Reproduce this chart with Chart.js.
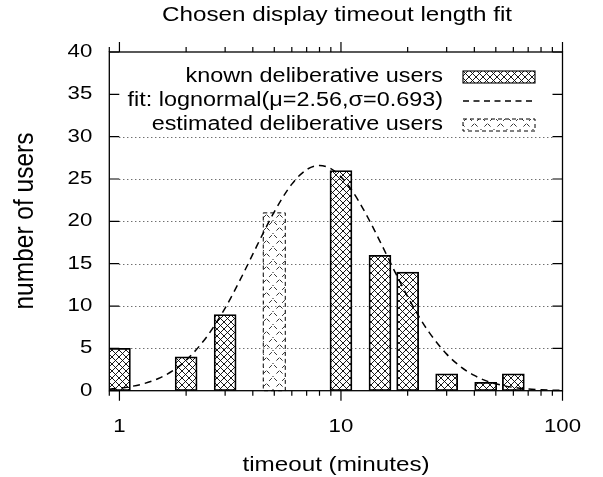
<!DOCTYPE html>
<html>
<head>
<meta charset="utf-8">
<script src="https://cdn.jsdelivr.net/npm/chart.js@4.4.1/dist/chart.umd.min.js"></script>
<style>
  html, body { margin: 0; padding: 0; background: #fff; }
</style>
</head>
<body>
<canvas id="chart" width="603" height="477"></canvas>
<script>
// data
const knownTimeouts = [1, 2, 3, 10, 15, 20, 30, 45, 60];
const knownUsers = [5, 4, 9, 26, 16, 14, 2, 1, 2];
const estTimeouts = [5];
const estUsers = [21];
const fitX = [0.9, 1, 1.25, 1.5, 1.75, 2, 2.5, 3, 3.5, 4, 4.5, 5, 6, 7, 8, 9, 10, 11, 12, 13.5,
              15, 17.5, 20, 22.5, 25, 30, 35, 40, 45, 50, 60, 70, 80, 90, 100];
const fitY = [0.18, 0.3, 0.74, 1.44, 2.4, 3.59, 6.5, 9.76, 13.05, 16.12, 18.84, 21.13, 24.4, 26.11, 26.6, 26.23, 25.27, 23.95, 22.43, 20.01,
              17.64, 14.07, 11.11, 8.75, 6.89, 4.32, 2.76, 1.8, 1.19, 0.81, 0.39, 0.2, 0.11, 0.06, 0.04];
const xMajor = [1, 10, 100];
const xMajorLabels = ["1", "10", "100"];
const xMinor = [0.9, 2, 3, 4, 5, 6, 7, 8, 9, 20, 30, 40, 50, 60, 70, 80, 90];
const yTicks = [0, 5, 10, 15, 20, 25, 30, 35, 40];
const yGrid = [5, 10, 15, 20, 25, 30];
const legendLabels = ["known deliberative users", "fit: lognormal(\u03bc=2.56,\u03c3=0.693)", "estimated deliberative users"];

const FONT = '"Liberation Sans", Arial, sans-serif';
const SX = 1.2; // text in the picture is drawn a bit wide

// hatch patterns
function hatch(size, dash, width, offset) {
    const c = document.createElement("canvas");
    c.width = c.height = size;
    const g = c.getContext("2d");
    g.strokeStyle = "#000";
    g.lineWidth = width;
    if (dash) { g.setLineDash(dash); g.lineDashOffset = offset || 0; }
    g.beginPath();
    g.moveTo(-1, -1); g.lineTo(size + 1, size + 1);
    g.moveTo(size + 1, -1); g.lineTo(-1, size + 1);
    g.stroke();
    return g.createPattern(c, "repeat");
}
const crossHatch = hatch(7, null, 0.9);
const sparseHatch = hatch(13, [4, 4], 0.8, -3);

function txt(ctx, s, x, y, size, align, rot, sx) {
    ctx.save();
    ctx.translate(x, y);
    ctx.scale(sx || SX, 1);
    if (rot) ctx.rotate(rot);
    ctx.font = size + "px " + FONT;
    ctx.textAlign = align;
    ctx.textBaseline = "middle";
    ctx.fillStyle = "#000";
    ctx.fillText(s, 0, 0);
    ctx.restore();
}

const decor = {
    id: "decor",
    beforeDatasetsDraw(chart) {
        const { ctx, chartArea: a, scales: { y } } = chart;
        ctx.save();
        ctx.strokeStyle = "#333";
        ctx.lineWidth = 1;
        ctx.setLineDash([1, 3]);
        yGrid.forEach(v => {
            const py = Math.round(y.getPixelForValue(v)) + 0.5;
            ctx.beginPath();
            ctx.moveTo(a.left + 10, py);
            ctx.lineTo(a.right - 10, py);
            ctx.stroke();
        });
        ctx.restore();
    },
    afterDatasetsDraw(chart) {
        const { ctx, chartArea: a, scales: { x, y } } = chart;
        ctx.save();

        // dashed outline of estimated bars
        const est = chart.getDatasetMeta(2);
        ctx.strokeStyle = "#000";
        ctx.lineWidth = 1;
        ctx.setLineDash([4, 3]);
        est.data.forEach(el => {
            ctx.strokeRect(el.x - el.width / 2, el.y, el.width, el.base - el.y);
        });
        ctx.setLineDash([]);

        // frame
        ctx.lineWidth = 1.3;
        ctx.strokeRect(a.left, a.top, a.right - a.left, a.bottom - a.top);

        // y ticks (inward, both sides)
        ctx.lineWidth = 1.2;
        yTicks.forEach(v => {
            const py = y.getPixelForValue(v);
            ctx.beginPath();
            ctx.moveTo(a.left, py); ctx.lineTo(a.left + 10, py);
            ctx.moveTo(a.right, py); ctx.lineTo(a.right - 10, py);
            ctx.stroke();
            txt(ctx, String(v), a.left - 17, py, 18.5, "right");
        });

        // x ticks (outward, top and bottom)
        const tick = (v, len) => {
            const px = x.getPixelForValue(v);
            ctx.beginPath();
            ctx.moveTo(px, a.bottom); ctx.lineTo(px, a.bottom + len);
            ctx.moveTo(px, a.top); ctx.lineTo(px, a.top - len);
            ctx.stroke();
        };
        xMinor.forEach(v => tick(v, 5));
        xMajor.forEach((v, i) => {
            tick(v, 10);
            txt(ctx, xMajorLabels[i], x.getPixelForValue(v), 427, 18.5, "center");
        });

        // legend
        const lx = 443, sx0 = 463, sx1 = 535;
        const rows = [77, 101, 125];
        legendLabels.forEach((s, i) => txt(ctx, s, lx, rows[i], 19.5, "right"));
        ctx.lineWidth = 1.1;
        ctx.fillStyle = crossHatch;
        ctx.fillRect(sx0, rows[0] - 6, sx1 - sx0, 12);
        ctx.strokeRect(sx0, rows[0] - 6, sx1 - sx0, 12);
        ctx.lineWidth = 1.3;
        ctx.setLineDash([6, 4.5]);
        ctx.beginPath();
        ctx.moveTo(sx0, rows[1]); ctx.lineTo(sx1, rows[1]);
        ctx.stroke();
        ctx.lineWidth = 1;
        ctx.setLineDash([4, 3]);
        ctx.fillStyle = sparseHatch;
        ctx.fillRect(sx0, rows[2] - 6, sx1 - sx0, 12);
        ctx.strokeRect(sx0, rows[2] - 6, sx1 - sx0, 12);
        ctx.setLineDash([]);

        // titles
        txt(ctx, "Chosen display timeout length fit", 337, 15, 20.2, "center");
        txt(ctx, "timeout (minutes)", 336, 465, 20.2, "center");
        txt(ctx, "number of users", 26, 221, 24.5, "center", -Math.PI / 2, 1.1);

        ctx.restore();
    }
};

const ctx = document.getElementById("chart").getContext("2d");
new Chart(ctx, {
    type: "bar",
    data: {
        datasets: [
            {
                type: "line",
                label: legendLabels[1],
                data: fitX.map((v, i) => ({ x: v, y: fitY[i] })),
                borderColor: "#000",
                borderWidth: 1.5,
                borderDash: [7, 5],
                pointRadius: 0,
                fill: false,
                cubicInterpolationMode: "monotone",
                order: 0
            },
            {
                label: legendLabels[0],
                data: knownTimeouts.map((v, i) => ({ x: v, y: knownUsers[i] })),
                backgroundColor: crossHatch,
                borderColor: "#000",
                borderWidth: 1.1,
                borderSkipped: false,
                barThickness: 22,
                grouped: false,
                order: 1
            },
            {
                label: legendLabels[2],
                data: estTimeouts.map((v, i) => ({ x: v, y: estUsers[i] })),
                backgroundColor: sparseHatch,
                borderWidth: 0,
                barThickness: 22,
                grouped: false,
                order: 2
            }
        ]
    },
    options: {
        responsive: false,
        animation: false,
        layout: { padding: { left: 0, right: 40.5, top: 52, bottom: 0 } },
        plugins: { legend: { display: false }, tooltip: { enabled: false }, title: { display: false } },
        scales: {
            x: {
                type: "logarithmic",
                min: 0.9,
                max: 100,
                ticks: { display: false },
                grid: { display: false },
                border: { display: false },
                afterFit: s => { s.height = 86.3; }
            },
            y: {
                min: 0,
                max: 40,
                ticks: { display: false, stepSize: 5 },
                grid: { display: false },
                border: { display: false },
                afterFit: s => { s.width = 109.3; }
            }
        }
    },
    plugins: [decor]
});
</script>
</body>
</html>
